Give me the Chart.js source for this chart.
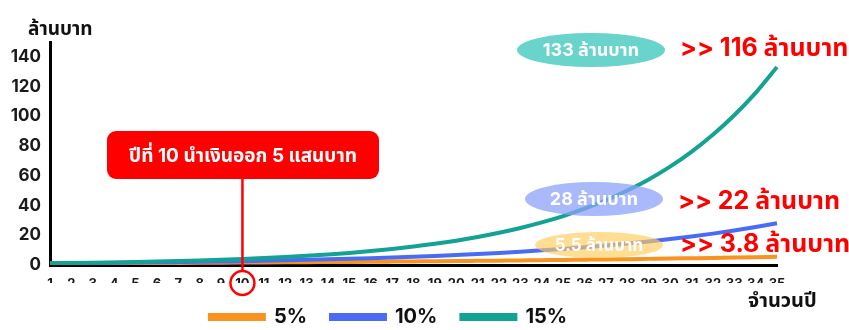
<!DOCTYPE html>
<html>
<head>
<meta charset="utf-8">
<script src="https://cdn.jsdelivr.net/npm/chart.js@4"></script>
<style>
html,body{margin:0;padding:0;background:#fff}
</style>
</head>
<body>
<canvas id="graficoAhorro" width="849" height="330"></canvas>
<script>
// datos (millones de baht por año)
const anios = [1,2,3,4,5,6,7,8,9,10,11,12,13,14,15,16,17,18,19,20,21,22,23,24,25,26,27,28,29,30,31,32,33,34,35];
const tasa5 = [1.05,1.10,1.16,1.22,1.28,1.34,1.41,1.48,1.55,1.63,1.71,1.80,1.89,1.98,2.08,2.18,2.29,2.41,2.53,2.65,2.79,2.93,3.07,3.23,3.39,3.56,3.73,3.92,4.12,4.32,4.54,4.76,5.00,5.25,5.52];
const tasa10 = [1.10,1.21,1.33,1.46,1.61,1.77,1.95,2.14,2.36,2.59,2.85,3.14,3.45,3.80,4.18,4.59,5.05,5.56,6.12,6.73,7.40,8.14,8.95,9.85,10.83,11.92,13.11,14.42,15.86,17.45,19.19,21.11,23.23,25.55,28.10];
const tasa15 = [1.15,1.32,1.52,1.75,2.01,2.31,2.66,3.06,3.52,4.05,4.65,5.35,6.15,7.08,8.14,9.36,10.76,12.38,14.23,16.37,18.82,21.64,24.89,28.63,32.92,37.86,43.54,50.07,57.58,66.21,76.14,87.57,100.70,115.80,133.18];
const ticksY = [0,20,40,60,80,100,120,140];
const nombres = ['5%','10%','15%'];
const colores = ['#f7931e','#4a6cf5','#13a293'];
const montosFinales = ['5.5 ล้านบาท','28 ล้านบาท','133 ล้านบาท'];
const montosRetiro = ['>> 3.8 ล้านบาท','>> 22 ล้านบาท','>> 116 ล้านบาท'];
const anioRetiro = 10;
const textoRetiro = 'ปีที่ 10 นำเงินออก 5 แสนบาท';
const tituloY = 'ล้านบาท';
const tituloX = 'จำนวนปี';

const FUENTE = "Inter, 'Noto Sans Thai', 'Noto Sans', sans-serif";

const notas = {
    id: 'notas',
    afterDatasetsDraw(chart){
        const c = chart.ctx;
        const globos = [
            {x:599, y:245, rx:64, ry:13, fondo:'rgba(255,205,90,0.65)', size:17},
            {x:594, y:199, rx:69, ry:17, fondo:'rgba(140,162,250,0.75)', size:18},
            {x:591, y:50, rx:74, ry:17, fondo:'rgba(104,212,203,1)', size:18}
        ];
        c.save();
        globos.forEach((g,i) => {
            c.beginPath();
            c.ellipse(g.x, g.y, g.rx, g.ry, 0, 0, Math.PI*2);
            c.fillStyle = g.fondo;
            c.fill();
            c.fillStyle = '#fff';
            c.font = 'bold ' + g.size + 'px ' + FUENTE;
            c.textAlign = 'center';
            c.textBaseline = 'middle';
            c.fillText(montosFinales[i], g.x, g.y + 1);
        });
        c.restore();
    },
    afterDraw(chart){
        const c = chart.ctx;
        const xs = chart.scales.x;
        c.save();
        // textos rojos
        c.fillStyle = '#ff0000';
        c.font = 'bold 25px ' + FUENTE;
        c.textAlign = 'left';
        c.textBaseline = 'middle';
        c.fillText(montosRetiro[0], 680, 244);
        c.fillText(montosRetiro[1], 678, 201);
        c.fillText(montosRetiro[2], 680, 48);

        // caja del retiro
        const px = xs.getPixelForValue(anios.indexOf(anioRetiro));
        c.strokeStyle = '#ff0000';
        c.lineWidth = 2.5;
        c.beginPath();
        c.moveTo(px, 178);
        c.lineTo(px, 272);
        c.stroke();
        c.beginPath();
        c.arc(px, 283, 12, 0, Math.PI*2);
        c.stroke();

        c.fillStyle = '#ff0000';
        c.beginPath();
        c.roundRect(107, 131, 272, 48, 9);
        c.fill();
        c.fillStyle = '#fff';
        c.font = 'bold 19px ' + FUENTE;
        c.textAlign = 'center';
        c.fillText(textoRetiro, 243, 156);

        // titulos de ejes
        c.fillStyle = '#111';
        c.font = 'bold 19px ' + FUENTE;
        c.textAlign = 'left';
        c.fillText(tituloY, 28, 29);
        c.font = 'bold 20px ' + FUENTE;
        c.fillText(tituloX, 748, 301);
        c.restore();
    }
};

const ctx = document.getElementById('graficoAhorro');
new Chart(ctx,{
    type: 'line',
    data:{
        labels: anios,
        datasets:[
            {label: nombres[0], data: tasa5, borderColor: colores[0], backgroundColor: colores[0], order: 3},
            {label: nombres[1], data: tasa10, borderColor: colores[1], backgroundColor: colores[1], order: 2},
            {label: nombres[2], data: tasa15, borderColor: colores[2], backgroundColor: colores[2], order: 1}
        ]
    },
    options:{
        responsive: false,
        animation: false,
        layout:{ padding:{ left: 0, right: 72, top: 42, bottom: 0 } },
        elements:{
            line:{ borderWidth: 4, cubicInterpolationMode: 'monotone' },
            point:{ radius: 0 }
        },
        scales:{
            x:{
                grid:{ display: false, drawTicks: false },
                border:{ display: true, color: '#000', width: 3 },
                ticks:{
                    autoSkip: false, maxRotation: 0, padding: 11,
                    color: '#1a1a1a',
                    font:{ family: FUENTE, size: 13, weight: 'bold' }
                },
                afterFit: s => { s.height = 18; }
            },
            y:{
                min: 0, max: 150,
                grid:{ display: false, drawTicks: false },
                border:{ display: true, color: '#000', width: 3 },
                ticks:{
                    padding: 9,
                    color: '#1a1a1a',
                    font:{ family: FUENTE, size: 17, weight: 'bold' }
                },
                afterBuildTicks: s => { s.ticks = ticksY.map(v => ({value: v})); },
                afterFit: s => { s.width = 50; }
            }
        },
        plugins:{
            legend:{
                position: 'bottom',
                maxHeight: 47,
                labels:{
                    boxWidth: 54, boxHeight: 4, padding: 24,
                    color: '#111',
                    font:{ family: FUENTE, size: 20, weight: 'bold' },
                    sort: (a, b) => a.datasetIndex - b.datasetIndex
                }
            },
            tooltip:{ enabled: false }
        }
    },
    plugins: [notas]
});
</script>
</body>
</html>
